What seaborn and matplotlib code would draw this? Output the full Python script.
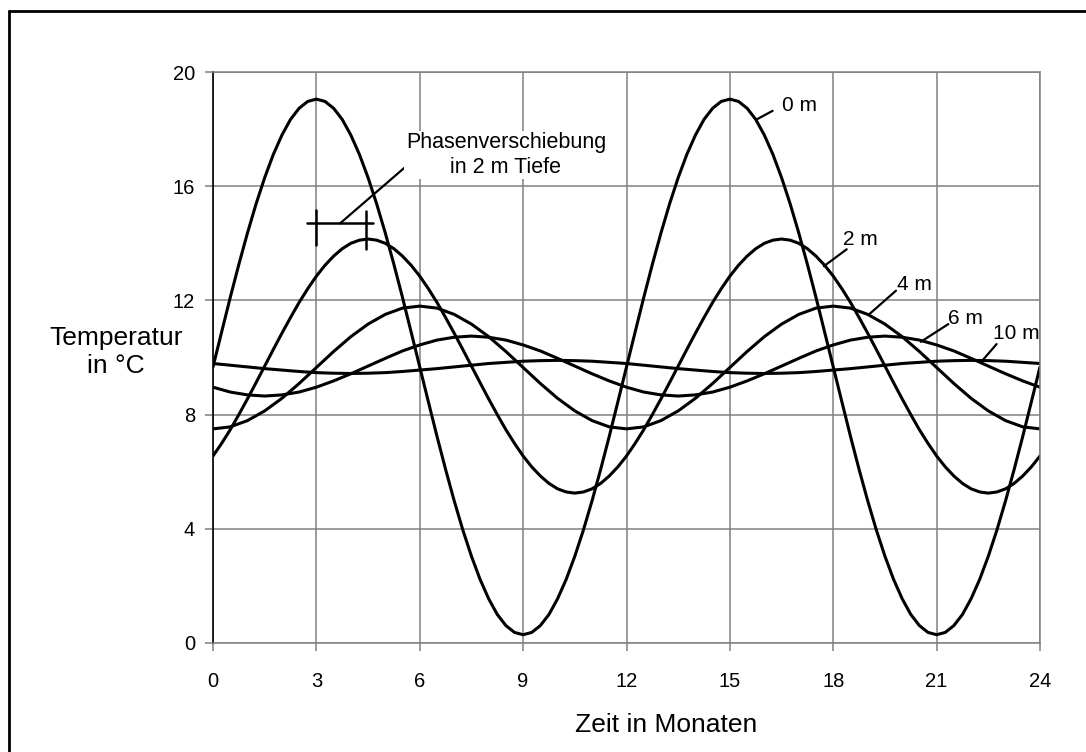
import numpy as np
import pandas as pd
import seaborn as sns
import matplotlib
matplotlib.use("Agg")
import matplotlib.pyplot as plt
from matplotlib.lines import Line2D

# Ground temperature over two years at different depths.
# Surface and 2 m are sampled every quarter month, deeper layers every half month.
months_fine = np.arange(0, 24.25, 0.25)
months_half = np.arange(0, 24.5, 0.5)

temp_0m = [9.67, 10.89, 12.10, 13.26, 14.36, 15.38, 16.30, 17.11, 17.79, 18.34, 18.73, 18.97,
           19.05, 18.97, 18.73, 18.34, 17.79, 17.11, 16.30, 15.38, 14.36, 13.26, 12.10, 10.89,
           9.67, 8.45, 7.24, 6.08, 4.98, 3.96, 3.04, 2.23, 1.55, 1.00, 0.61, 0.37,
           0.29, 0.37, 0.61, 1.00, 1.55, 2.23, 3.04, 3.96, 4.98, 6.08, 7.24, 8.45,
           9.67, 10.89, 12.10, 13.26, 14.36, 15.38, 16.30, 17.11, 17.79, 18.34, 18.73, 18.97,
           19.05, 18.97, 18.73, 18.34, 17.79, 17.11, 16.30, 15.38, 14.36, 13.26, 12.10, 10.89,
           9.67, 8.45, 7.24, 6.08, 4.98, 3.96, 3.04, 2.23, 1.55, 1.00, 0.61, 0.37,
           0.29, 0.37, 0.61, 1.00, 1.55, 2.23, 3.04, 3.96, 4.98, 6.08, 7.24, 8.45, 9.67]
temp_2m = [6.55, 6.99, 7.47, 8.00, 8.55, 9.12, 9.70, 10.28, 10.85, 11.40, 11.93, 12.41,
           12.85, 13.23, 13.55, 13.81, 14.00, 14.11, 14.15, 14.11, 14.00, 13.81, 13.55, 13.23,
           12.85, 12.41, 11.93, 11.40, 10.85, 10.28, 9.70, 9.12, 8.55, 8.00, 7.47, 6.99,
           6.55, 6.17, 5.85, 5.59, 5.40, 5.29, 5.25, 5.29, 5.40, 5.59, 5.85, 6.17,
           6.55, 6.99, 7.47, 8.00, 8.55, 9.12, 9.70, 10.28, 10.85, 11.40, 11.93, 12.41,
           12.85, 13.23, 13.55, 13.81, 14.00, 14.11, 14.15, 14.11, 14.00, 13.81, 13.55, 13.23,
           12.85, 12.41, 11.93, 11.40, 10.85, 10.28, 9.70, 9.12, 8.55, 8.00, 7.47, 6.99,
           6.55, 6.17, 5.85, 5.59, 5.40, 5.29, 5.25, 5.29, 5.40, 5.59, 5.85, 6.17, 6.55]
temp_4m = [7.50, 7.57, 7.79, 8.13, 8.57, 9.09, 9.65, 10.21, 10.73, 11.17, 11.51, 11.73,
           11.80, 11.73, 11.51, 11.17, 10.73, 10.21, 9.65, 9.09, 8.57, 8.13, 7.79, 7.57,
           7.50, 7.57, 7.79, 8.13, 8.57, 9.09, 9.65, 10.21, 10.73, 11.17, 11.51, 11.73,
           11.80, 11.73, 11.51, 11.17, 10.73, 10.21, 9.65, 9.09, 8.57, 8.13, 7.79, 7.57, 7.50]
temp_6m = [8.96, 8.79, 8.69, 8.65, 8.69, 8.79, 8.96, 9.18, 9.43, 9.70, 9.97, 10.23,
           10.44, 10.61, 10.71, 10.75, 10.71, 10.61, 10.44, 10.23, 9.97, 9.70, 9.43, 9.18,
           8.96, 8.79, 8.69, 8.65, 8.69, 8.79, 8.96, 9.18, 9.43, 9.70, 9.97, 10.23,
           10.44, 10.61, 10.71, 10.75, 10.71, 10.61, 10.44, 10.23, 9.97, 9.70, 9.43, 9.18, 8.96]
temp_10m = [9.79, 9.73, 9.67, 9.61, 9.56, 9.51, 9.47, 9.45, 9.44, 9.45, 9.47, 9.51,
            9.56, 9.61, 9.67, 9.73, 9.79, 9.83, 9.87, 9.89, 9.90, 9.89, 9.87, 9.83,
            9.79, 9.73, 9.67, 9.61, 9.56, 9.51, 9.47, 9.45, 9.44, 9.45, 9.47, 9.51,
            9.56, 9.61, 9.67, 9.73, 9.79, 9.83, 9.87, 9.89, 9.90, 9.89, 9.87, 9.83, 9.79]

depth_labels = ["0 m", "2 m", "4 m", "6 m", "10 m"]
series = [(months_fine, temp_0m), (months_fine, temp_2m), (months_half, temp_4m),
          (months_half, temp_6m), (months_half, temp_10m)]

x_ticks = [0, 3, 6, 9, 12, 15, 18, 21, 24]
y_ticks = [0, 4, 8, 12, 16, 20]

df = pd.concat(
    [pd.DataFrame({"Monat": mx, "Temperatur": vals, "Tiefe": lab})
     for lab, (mx, vals) in zip(depth_labels, series)],
    ignore_index=True,
)

sns.set_theme(style="white")
plt.rcParams["font.family"] = ["Liberation Sans", "DejaVu Sans"]
plt.rcParams["text.color"] = "black"
plt.rcParams["xtick.color"] = "black"
plt.rcParams["ytick.color"] = "black"

W, H = 1086, 752
fig = plt.figure(figsize=(W / 100, H / 100), dpi=100)
ax = fig.add_axes([213 / W, 1 - 643 / H, (1040 - 213) / W, (643 - 72) / H])

sns.lineplot(data=df, x="Monat", y="Temperatur", hue="Tiefe",
             palette=["black"] * len(depth_labels), linewidth=2.2,
             errorbar=None, legend=False, ax=ax)

ax.set_xlim(0, 24)
ax.set_ylim(0, 20)
ax.set_xticks(x_ticks)
ax.set_yticks(y_ticks)
ax.set_xticklabels([str(t) for t in x_ticks])
ax.set_yticklabels([str(t) for t in y_ticks])
ax.set_xlabel("")
ax.set_ylabel("")
ax.grid(True, color="#808080", linewidth=1.1)
ax.set_axisbelow(True)

ax.tick_params(axis="both", which="major", bottom=True, left=True, direction="out",
               length=6, width=1.1, color="#808080", labelsize=14.5, labelcolor="black")
ax.tick_params(axis="x", pad=15)
ax.tick_params(axis="y", pad=7)

for side in ["top", "right", "bottom"]:
    ax.spines[side].set_color("#808080")
    ax.spines[side].set_linewidth(1.1)
ax.spines["left"].set_color("black")
ax.spines["left"].set_linewidth(1.2)

# Depth labels with leader lines
leaders = [
    ("0 m", (15.78, 18.34), (16.24, 18.64), (16.50, 18.84)),
    ("2 m", (17.73, 13.20), (18.39, 13.79), (18.29, 14.12)),
    ("4 m", (19.02, 11.49), (19.82, 12.34), (19.84, 12.57)),
    ("6 m", (20.54, 10.55), (21.34, 11.17), (21.32, 11.37)),
    ("10 m", (22.34, 9.91), (22.74, 10.47), (22.65, 10.85)),
]
for lab, p0, p1, pt in leaders:
    ax.plot([p0[0], p1[0]], [p0[1], p1[1]], color="black", linewidth=1.6)
    ax.text(pt[0], pt[1], lab, fontsize=15, ha="left", va="center", color="black")

# Phase shift marker at 2 m depth
ax.plot([2.73, 4.64], [14.70, 14.70], color="black", linewidth=1.8)
ax.plot([2.99, 2.99], [13.94, 15.17], color="black", linewidth=1.8)
ax.plot([4.44, 4.44], [13.80, 15.14], color="black", linewidth=1.8)
ax.plot([3.69, 6.01], [14.70, 17.12], color="black", linewidth=1.6)
ax.text(8.50, 17.09, "Phasenverschiebung\nin 2 m Tiefe", fontsize=15.5,
        ha="center", va="center", multialignment="center", color="black",
        linespacing=1.2, bbox=dict(facecolor="white", edgecolor="none", pad=1))

# Axis titles
fig.text(116 / W, 1 - 352 / H, "Temperatur\nin °C", fontsize=19, ha="center",
         va="center", multialignment="center", linespacing=1.2)
fig.text(666 / W, 1 - 725 / H, "Zeit in Monaten", fontsize=19, ha="center", va="center")

# Outer frame (left and top edges)
fig.add_artist(Line2D([9 / W, 9 / W], [0, 1 - 11 / H], transform=fig.transFigure,
                      color="black", linewidth=2))
fig.add_artist(Line2D([9 / W, 1], [1 - 11 / H, 1 - 11 / H], transform=fig.transFigure,
                      color="black", linewidth=2))

fig.savefig("out.png", dpi=100)
